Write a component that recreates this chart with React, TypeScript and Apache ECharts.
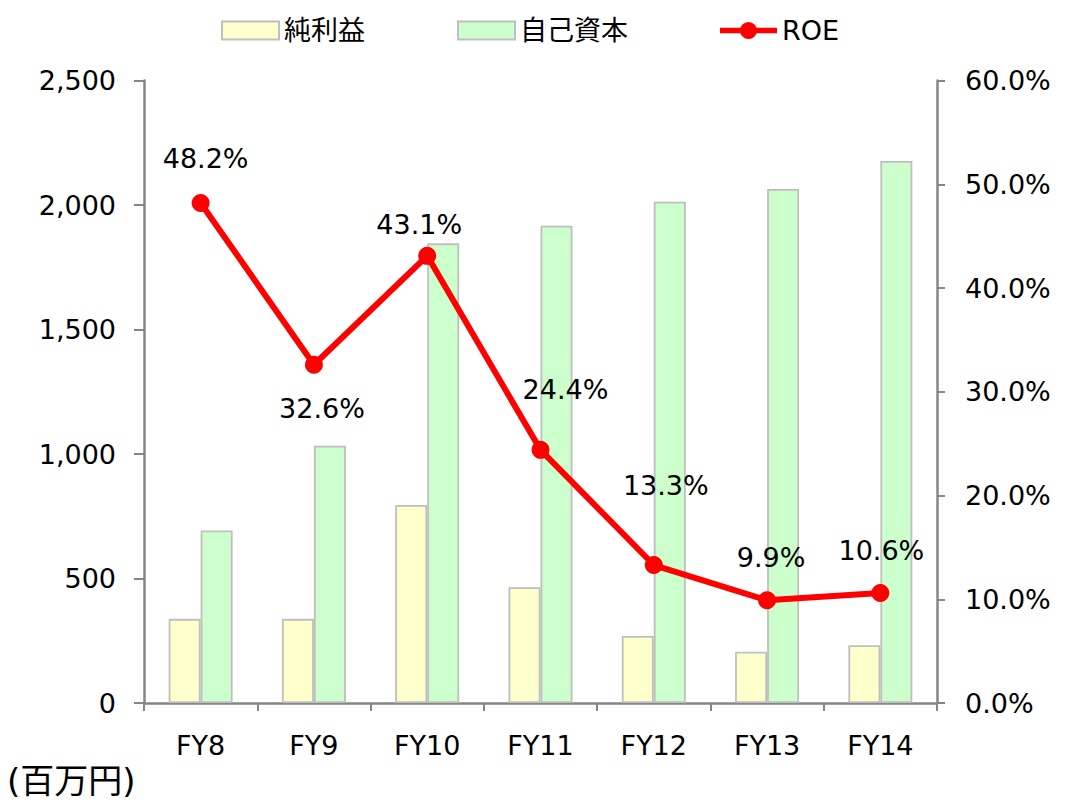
import React, { useEffect, useRef } from "react";
import * as echarts from "echarts";

const categories = ["FY8", "FY9", "FY10", "FY11", "FY12", "FY13", "FY14"];
const netIncome = [338, 338, 795, 465, 269, 206, 232];
const equity = [693, 1033, 1846, 1917, 2013, 2064, 2177];
const roe = [48.2, 32.6, 43.1, 24.4, 13.3, 9.9, 10.6];
const seriesNames = ["純利益", "自己資本", "ROE"];
const unitLabel = "(百万円)";

// label placement (style only)
const labelOffsets = [
  [5, -44],
  [8, 44],
  [-8, -31],
  [25, -60],
  [12, -80],
  [4, -43],
  [1, -43],
];

const FONT = "'DejaVu Sans', 'Noto Sans CJK JP', sans-serif";
const AXIS_GRAY = "#868686";
const LINE_ICON =
  "path://M0,6L60,6L60,12L0,12Z M21,9A9,9 0 1 1 39,9A9,9 0 1 1 21,9Z";

const fmtThousands = (v: number) =>
  String(Math.round(v)).replace(/\B(?=(\d{3})+(?!\d))/g, ",");

export default function App() {
  const ref = useRef<HTMLDivElement>(null);
  useEffect(() => {
    if (!ref.current) return;
    const chart = echarts.init(ref.current, null, { renderer: "svg" });
    chart.setOption({
      animation: false,
      backgroundColor: "#ffffff",
      textStyle: { fontFamily: FONT },
      legend: {
        left: 216,
        top: 12,
        itemWidth: 57,
        itemHeight: 18,
        itemGap: 92,
        textStyle: { fontSize: 27, color: "#000", fontFamily: FONT },
        data: [
          { name: seriesNames[0], icon: "rect" },
          { name: seriesNames[1], icon: "rect" },
          { name: seriesNames[2], icon: LINE_ICON, itemStyle: { color: "#FF0000", borderWidth: 0 } },
        ],
      },
      grid: { left: 144, right: 130, top: 80.5, bottom: 100, containLabel: false },
      xAxis: {
        type: "category",
        data: categories,
        axisLine: { lineStyle: { color: AXIS_GRAY, width: 2.5 } },
        axisTick: { show: true, length: 8, lineStyle: { color: AXIS_GRAY, width: 2 } },
        axisLabel: { color: "#000", fontSize: 27, margin: 29, fontFamily: FONT },
      },
      yAxis: [
        {
          type: "value",
          min: 0,
          max: 2500,
          interval: 500,
          splitLine: { show: false },
          axisLine: { show: true, lineStyle: { color: AXIS_GRAY, width: 2.5 } },
          axisTick: { show: true, length: 10, lineStyle: { color: AXIS_GRAY, width: 2 } },
          axisLabel: {
            color: "#000",
            fontSize: 27,
            margin: 28,
            fontFamily: FONT,
            formatter: (v: number) => fmtThousands(v),
          },
        },
        {
          type: "value",
          min: 0,
          max: 60,
          interval: 10,
          position: "right",
          splitLine: { show: false },
          axisLine: { show: true, lineStyle: { color: AXIS_GRAY, width: 2.5 } },
          axisTick: { show: true, length: 8, lineStyle: { color: AXIS_GRAY, width: 2 } },
          axisLabel: {
            color: "#000",
            fontSize: 27,
            margin: 28,
            fontFamily: FONT,
            formatter: (v: number) => v.toFixed(1) + "%",
          },
        },
      ],
      series: [
        {
          name: seriesNames[0],
          type: "bar",
          data: netIncome,
          barWidth: 32,
          barGap: "0%",
          itemStyle: { color: "#FFFFCC", borderColor: "#BFBFBF", borderWidth: 1.8 },
          z: 2,
        },
        {
          name: seriesNames[1],
          type: "bar",
          data: equity,
          barWidth: 32,
          barGap: "0%",
          itemStyle: { color: "#CCFFCC", borderColor: "#BFBFBF", borderWidth: 1.8 },
          z: 2,
        },
        {
          name: seriesNames[2],
          type: "line",
          yAxisIndex: 1,
          data: roe.map((v, i) => ({
            value: v,
            label: {
              show: true,
              position: "inside",
              offset: labelOffsets[i],
              formatter: (p: any) => Number(p.value).toFixed(1) + "%",
              color: "#000",
              fontSize: 27,
              fontFamily: FONT,
            },
          })),
          symbol: "circle",
          symbolSize: 18,
          lineStyle: { color: "#FF0000", width: 6 },
          itemStyle: { color: "#FF0000" },
          z: 5,
        },
      ],
      graphic: [
        {
          type: "text",
          left: 7,
          top: 764,
          style: {
            text: unitLabel,
            fontSize: 34,
            fill: "#000",
            fontFamily: FONT,
          },
        },
      ],
    });
    return () => chart.dispose();
  }, []);
  return (
    <div
      ref={ref}
      style={{ position: "fixed", left: 0, top: 0, width: 1067, height: 803 }}
    />
  );
}
